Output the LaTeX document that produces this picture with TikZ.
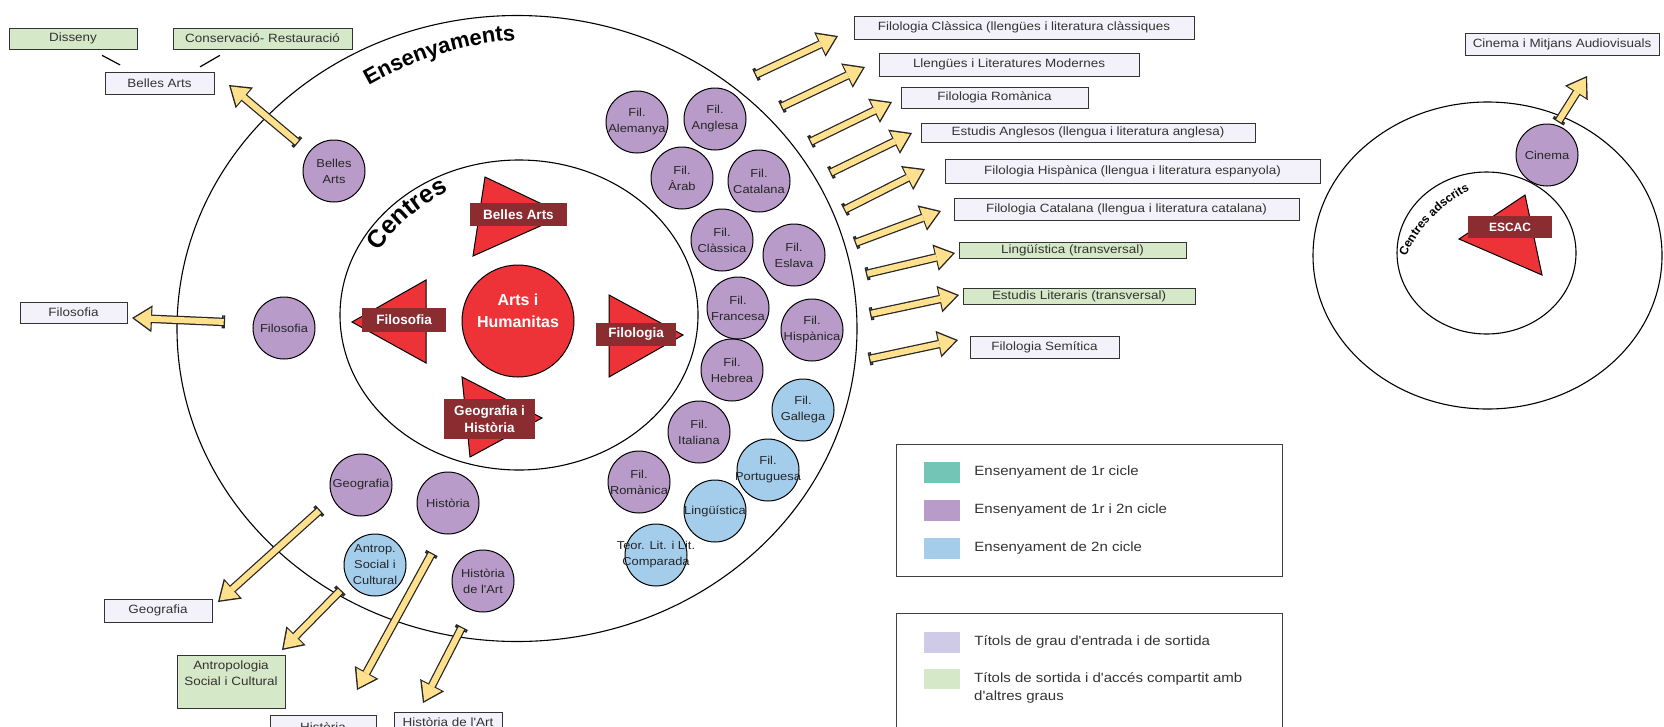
\documentclass[tikz,border=0pt]{standalone}
\usepackage{fontspec}
\setmainfont{Liberation Sans}
\newfontfamily\ampla{Liberation Sans}[FakeStretch=1.12]
\usetikzlibrary{arrows.meta,positioning,decorations.text}

\definecolor{lila}{HTML}{B89BC9}
\definecolor{blau}{HTML}{A3CDEB}
\definecolor{verd}{HTML}{D5E8C8}
\definecolor{grau}{HTML}{F3F2FA}
\definecolor{turq}{HTML}{73C6B6}
\definecolor{malva}{HTML}{CFCBE6}
\definecolor{vermell}{HTML}{EE3338}
\definecolor{grana}{HTML}{8B2C31}
\definecolor{groc}{HTML}{FFE08C}

\tikzset{
  anell/.style={line width=1.1pt},
  fil/.style={circle, draw, line width=1pt, fill=lila, minimum size=62pt, inner sep=-6pt,
    align=center, font=\ampla\fontsize{11.5}{16}\selectfont, text=black!85},
  fil2/.style={fil, fill=blau},
  titol/.style={draw=black!80, line width=1pt, fill=grau, inner sep=0pt, align=center,
    font=\ampla\fontsize{12}{16}\selectfont, text=black!80},
  titolv/.style={titol, fill=verd},
  mida/.style 2 args={minimum width=#1pt, minimum height=#2pt},
  etiq/.style={fill=grana, text=white, inner sep=0pt, align=center,
    font=\bfseries\fontsize{13.5}{17}\selectfont},
  tri/.style={draw, line width=1pt, fill=vermell},
  sortida/.style={draw=black!85, line width=8.5pt,
    {Bar[width=13pt,line width=1.6pt] Bar[width=13pt,line width=1.6pt]}-{Triangle[width=27pt,length=20pt,line width=0pt]},
    postaction={draw=groc, line width=6pt, -{Triangle[width=22pt,length=16.5pt,line width=0pt]},
      shorten >=2.4pt, shorten <=1.3pt}},
  mostra/.style={minimum width=36pt, minimum height=21pt, inner sep=0pt},
  llegenda/.style={font=\ampla\fontsize{13.4}{18}\selectfont, text=black!80, inner sep=0pt}
}

\begin{document}
\begin{tikzpicture}[x=1pt,y=-1pt]
  \useasboundingbox (0,0) rectangle (1664,726);

  % anells
  \draw[anell] (517,328.5) ellipse[x radius=340,y radius=313];
  \draw[anell] (519,315) ellipse[x radius=179,y radius=155];
  \draw[anell] (1487.5,255.5) ellipse[x radius=174.5,y radius=153.5];
  \draw[anell] (1486.5,253) ellipse[x radius=89.5,y radius=81];

  \path[decorate, decoration={text along path, text align=center,
    text={|\bfseries\fontsize{22}{22}\selectfont|Ensenyaments}}]
    (358,92) .. controls (400,66) and (462,40) .. (528,40);
  \path[decorate, decoration={text along path, text align=center,
    text={|\bfseries\fontsize{25}{25}\selectfont|Centres}}]
    (372,262) .. controls (390,230) and (420,203) .. (460,186);
  \path[decorate, decoration={text along path, text align=center,
    text={|\bfseries\fontsize{12}{12}\selectfont|Centres adscrits}}]
    (1402,270) .. controls (1410,236) and (1440,202) .. (1482,184);

  % centres
  \node[circle, draw, line width=1pt, fill=vermell, minimum size=112pt, text=white, align=center,
    font=\bfseries\fontsize{16}{22}\selectfont] (ah) at (518,321) {Arts i\\Humanitas\\[-2pt]\mbox{}};
  \draw[tri] (485,177) -- (473,256) -- (565,215) -- cycle;
  \node[etiq, mida={97}{23}] (cba) at (518.5,214.5) {Belles Arts};
  \draw[tri] (426,280) -- (426,363) -- (352,322) -- cycle;
  \node[etiq, mida={84}{24}] (cfil) at (404,320) {Filosofia};
  \draw[tri] (609,295) -- (609,377) -- (683,335) -- cycle;
  \node[etiq, mida={80}{23}] (cflg) at (636,334.5) {Filologia};
  \draw[tri] (462,377) -- (470,457) -- (542,418) -- cycle;
  \node[etiq, mida={91}{40}] (cgh) at (489.5,419) {Geografia i\\Història};
  \draw[tri] (1525,195) -- (1459,239) -- (1542,275) -- cycle;
  \node[etiq, mida={84}{22}, font=\bfseries\fontsize{12}{14}\selectfont] (cesc) at (1510,227) {ESCAC};

  % ensenyaments
  \node[fil] (ba) at (334,171) {Belles\\Arts};
  \node[fil] (filo) at (284,328) {Filosofia};
  \node[fil] (alem) at (637,122) {Fil.\\Alemanya};
  \node[fil] (angl) at (715,119) {Fil.\\Anglesa};
  \node[fil] (arab) at (682,178) {Fil.\\Àrab};
  \node[fil] (cata) at (759,181) {Fil.\\Catalana};
  \node[fil] (clas) at (722,240) {Fil.\\Clàssica};
  \node[fil] (esla) at (794,255) {Fil.\\Eslava};
  \node[fil] (fran) at (738,308) {Fil.\\Francesa};
  \node[fil] (hisp) at (812,330) {Fil.\\Hispànica};
  \node[fil] (hebr) at (732,370) {Fil.\\Hebrea};
  \node[fil2] (gall) at (803,410) {Fil.\\Gallega};
  \node[fil] (ital) at (699,432) {Fil.\\Italiana};
  \node[fil2] (port) at (768,470) {Fil.\\Portuguesa};
  \node[fil] (roma) at (639,482) {Fil.\\Romànica};
  \node[fil2] (ling) at (715,511) {Lingüística};
  \node[fil2] (teor) at (656,555) {\makebox[0pt]{Teor. Lit. i Lit.}\\Comparada};
  \node[fil] (geo) at (361,485) {Geografia};
  \node[fil] (hist) at (448,503) {Història};
  \node[fil2] (antr) at (375,565) {Antrop.\\Social i\\Cultural};
  \node[fil] (hart) at (483,581) {Història\\de l'Art};
  \node[fil] (cine) at (1547,155) {Cinema};

  % titols
  \node[titolv, mida={128}{21}] (diss) at (73,38.5) {Disseny};
  \node[titolv, mida={179}{21}] (cons) at (262.5,38.5) {Conservació- Restauració};
  \node[titol, mida={109}{22}] (tba) at (159.5,83) {Belles Arts};
  \node[titol, mida={107}{21}] (tfil) at (73.5,312.5) {Filosofia};
  \node[titol, mida={108}{23}] (tgeo) at (158,610.5) {Geografia};
  \node[titolv, mida={108}{53}] (tant) at (231,681.5) {Antropologia\\Social i Cultural\\\mbox{}};
  \node[titol, mida={106}{24}, anchor=north] (this) at (323,715) {Història};
  \node[titol, mida={108}{20}, anchor=north] (thart) at (448,712) {Història de l'Art};
  \node[titol, mida={340}{23}] (tfc) at (1024,27.5) {Filologia Clàssica (llengües i literatura clàssiques};
  \node[titol, mida={260}{23}] (tllm) at (1009,64.5) {Llengües i Literatures Modernes};
  \node[titol, mida={187}{21}] (tfr) at (994.5,97.5) {Filologia Romànica};
  \node[titol, mida={334}{19}] (tea) at (1088,132.5) {Estudis Anglesos (llengua i literatura anglesa)};
  \node[titol, mida={375}{24}] (tfh) at (1132.5,171) {Filologia Hispànica (llengua i literatura espanyola)};
  \node[titol, mida={345}{22}] (tfca) at (1126.5,209) {Filologia Catalana (llengua i literatura catalana)};
  \node[titolv, mida={227}{16}] (tlt) at (1072.5,250) {Lingüística (transversal)};
  \node[titolv, mida={232}{16}] (tet) at (1079,296) {Estudis Literaris (transversal)};
  \node[titol, mida={149}{22}] (tfs) at (1044.5,347) {Filologia Semítica};
  \node[titol, mida={194}{22}] (tcin) at (1562,44) {Cinema i Mitjans Audiovisuals};

  \draw[line width=1.2pt, shorten <=12.5pt, shorten >=14pt] ([xshift=18pt]diss.south) -- ([xshift=-27pt]tba.north);
  \draw[line width=1.2pt, shorten <=11.7pt, shorten >=9.3pt] ([xshift=-32.5pt]cons.south) -- ([xshift=32.5pt]tba.north);

  % fletxes de sortida
  \foreach \n/\s/\e in {ba/{298,143}/{229,85}, fl/{225,322}/{132,318},
      fc/{755,75}/{838,36}, llm/{781,107}/{865,67}, fr/{810,142}/{892,102},
      ea/{830,173}/{912,133}, fh/{844,210}/{925,169}, fca/{855,243}/{941,211},
      lt/{866,274}/{955,253}, et/{870,314}/{959,295}, fs/{869,359}/{958,340},
      geo/{320,510}/{218,602}, ant/{341,590}/{282,650}, his/{432,553}/{357,690},
      hart/{462,627}/{423,703}, cin/{1558,122}/{1587,76}}{
    \coordinate (s\n) at (\s);
    \coordinate (e\n) at (\e);
    \draw[sortida] (s\n) -- (e\n);
  }

  % llegenda
  \draw[line width=1pt, draw=black!75] (896,444) rectangle (1282,576);
  \node[mostra, fill=turq] (m1) at (942,472.5) {};
  \node[llegenda, right=14pt of m1] {Ensenyament de 1r cicle};
  \node[mostra, fill=lila] (m2) at (942,510.5) {};
  \node[llegenda, right=14pt of m2] {Ensenyament de 1r i 2n cicle};
  \node[mostra, fill=blau] (m3) at (942,548) {};
  \node[llegenda, right=14pt of m3] {Ensenyament de 2n cicle};
  \draw[line width=1pt, draw=black!75] (896,613) rectangle (1282,760);
  \node[mostra, fill=malva] (m4) at (942,642) {};
  \node[llegenda, right=14pt of m4] {Títols de grau d'entrada i de sortida};
  \node[mostra, fill=verd, minimum height=20pt] (m5) at (942,679) {};
  \node[llegenda, align=left, anchor=north west] (l5) at (974,672) {Títols de sortida i d'accés compartit amb\\d'altres graus};
\end{tikzpicture}
\end{document}
